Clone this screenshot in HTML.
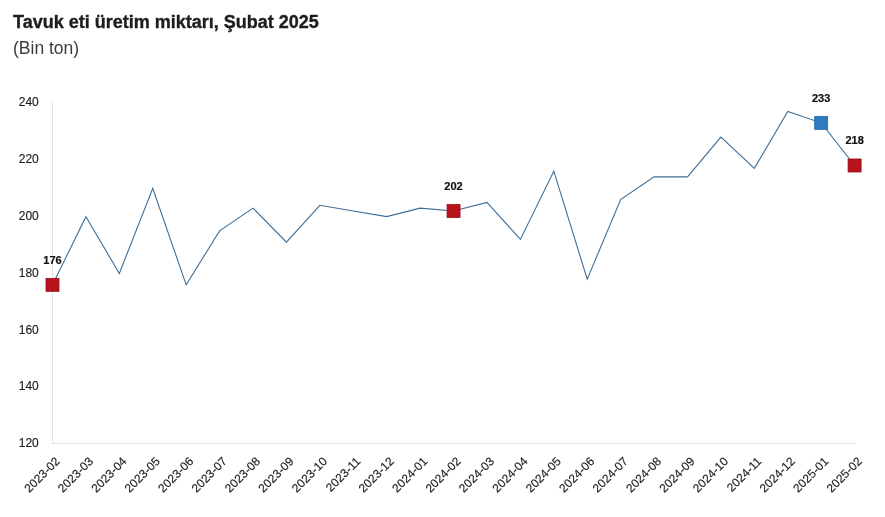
<!DOCTYPE html>
<html><head><meta charset="utf-8"><title>Tavuk eti üretim miktarı</title>
<style>html,body{margin:0;padding:0;background:#fff;width:885px;height:517px;overflow:hidden}svg{display:block}svg{will-change:transform}</style>
</head><body>
<svg width="885" height="517" viewBox="0 0 885 517">
<rect width="885" height="517" fill="#fff"/>
<text x="13" y="28" font-family='"Liberation Sans", Arial, sans-serif' font-weight="bold" font-size="18" fill="#1e1e1e" stroke="#1e1e1e" stroke-width="0.35">Tavuk eti üretim miktarı, Şubat 2025</text>
<text x="13" y="53.6" font-family='"Liberation Sans", Arial, sans-serif' font-size="17.5" fill="#3c3c3c">(Bin ton)</text>
<line x1="52.5" y1="101.5" x2="52.5" y2="444" stroke="#e2e2e2" stroke-width="1"/>
<line x1="52" y1="443.5" x2="856" y2="443.5" stroke="#e2e2e2" stroke-width="1"/>
<text x="38.8" y="447.2" text-anchor="end" font-family='"Liberation Sans", Arial, sans-serif' font-size="12" fill="#1c1c1c" stroke="#1c1c1c" stroke-width="0.15">120</text>
<text x="38.8" y="390.4" text-anchor="end" font-family='"Liberation Sans", Arial, sans-serif' font-size="12" fill="#1c1c1c" stroke="#1c1c1c" stroke-width="0.15">140</text>
<text x="38.8" y="333.5" text-anchor="end" font-family='"Liberation Sans", Arial, sans-serif' font-size="12" fill="#1c1c1c" stroke="#1c1c1c" stroke-width="0.15">160</text>
<text x="38.8" y="276.7" text-anchor="end" font-family='"Liberation Sans", Arial, sans-serif' font-size="12" fill="#1c1c1c" stroke="#1c1c1c" stroke-width="0.15">180</text>
<text x="38.8" y="219.8" text-anchor="end" font-family='"Liberation Sans", Arial, sans-serif' font-size="12" fill="#1c1c1c" stroke="#1c1c1c" stroke-width="0.15">200</text>
<text x="38.8" y="163.0" text-anchor="end" font-family='"Liberation Sans", Arial, sans-serif' font-size="12" fill="#1c1c1c" stroke="#1c1c1c" stroke-width="0.15">220</text>
<text x="38.8" y="106.2" text-anchor="end" font-family='"Liberation Sans", Arial, sans-serif' font-size="12" fill="#1c1c1c" stroke="#1c1c1c" stroke-width="0.15">240</text>
<polyline points="52.50,284.85 85.92,216.64 119.34,273.48 152.76,188.22 186.18,284.85 219.60,230.85 253.03,208.11 286.45,242.22 319.87,205.27 353.29,210.96 386.71,216.64 420.13,208.11 453.55,210.96 486.97,202.43 520.39,239.38 553.81,171.17 587.23,279.16 620.65,199.59 654.08,176.85 687.50,176.85 720.92,137.06 754.34,168.33 787.76,111.49 821.18,122.85 854.60,165.48" fill="none" stroke="#3d6e97" stroke-width="1.1" stroke-linejoin="miter"/>
<rect x="46.00" y="278.35" width="13" height="13" fill="#b8121c" stroke="#9c0f17" stroke-width="0.8"/>
<text x="52.50" y="263.85" text-anchor="middle" font-family='"Liberation Sans", Arial, sans-serif' font-weight="bold" font-size="11" fill="#111" stroke="#111" stroke-width="0.2">176</text>
<rect x="447.05" y="204.46" width="13" height="13" fill="#b8121c" stroke="#9c0f17" stroke-width="0.8"/>
<text x="453.55" y="189.96" text-anchor="middle" font-family='"Liberation Sans", Arial, sans-serif' font-weight="bold" font-size="11" fill="#111" stroke="#111" stroke-width="0.2">202</text>
<rect x="814.68" y="116.35" width="13" height="13" fill="#2f7bbf" stroke="#2869a8" stroke-width="0.8"/>
<text x="821.18" y="101.85" text-anchor="middle" font-family='"Liberation Sans", Arial, sans-serif' font-weight="bold" font-size="11" fill="#111" stroke="#111" stroke-width="0.2">233</text>
<rect x="848.10" y="158.98" width="13" height="13" fill="#b8121c" stroke="#9c0f17" stroke-width="0.8"/>
<text x="854.60" y="144.48" text-anchor="middle" font-family='"Liberation Sans", Arial, sans-serif' font-weight="bold" font-size="11" fill="#111" stroke="#111" stroke-width="0.2">218</text>
<text transform="translate(60.50,462.00) rotate(-45)" text-anchor="end" font-family='"Liberation Sans", Arial, sans-serif' font-size="12" fill="#1c1c1c" stroke="#1c1c1c" stroke-width="0.15">2023-02</text>
<text transform="translate(93.92,462.00) rotate(-45)" text-anchor="end" font-family='"Liberation Sans", Arial, sans-serif' font-size="12" fill="#1c1c1c" stroke="#1c1c1c" stroke-width="0.15">2023-03</text>
<text transform="translate(127.34,462.00) rotate(-45)" text-anchor="end" font-family='"Liberation Sans", Arial, sans-serif' font-size="12" fill="#1c1c1c" stroke="#1c1c1c" stroke-width="0.15">2023-04</text>
<text transform="translate(160.76,462.00) rotate(-45)" text-anchor="end" font-family='"Liberation Sans", Arial, sans-serif' font-size="12" fill="#1c1c1c" stroke="#1c1c1c" stroke-width="0.15">2023-05</text>
<text transform="translate(194.18,462.00) rotate(-45)" text-anchor="end" font-family='"Liberation Sans", Arial, sans-serif' font-size="12" fill="#1c1c1c" stroke="#1c1c1c" stroke-width="0.15">2023-06</text>
<text transform="translate(227.60,462.00) rotate(-45)" text-anchor="end" font-family='"Liberation Sans", Arial, sans-serif' font-size="12" fill="#1c1c1c" stroke="#1c1c1c" stroke-width="0.15">2023-07</text>
<text transform="translate(261.02,462.00) rotate(-45)" text-anchor="end" font-family='"Liberation Sans", Arial, sans-serif' font-size="12" fill="#1c1c1c" stroke="#1c1c1c" stroke-width="0.15">2023-08</text>
<text transform="translate(294.45,462.00) rotate(-45)" text-anchor="end" font-family='"Liberation Sans", Arial, sans-serif' font-size="12" fill="#1c1c1c" stroke="#1c1c1c" stroke-width="0.15">2023-09</text>
<text transform="translate(327.87,462.00) rotate(-45)" text-anchor="end" font-family='"Liberation Sans", Arial, sans-serif' font-size="12" fill="#1c1c1c" stroke="#1c1c1c" stroke-width="0.15">2023-10</text>
<text transform="translate(361.29,462.00) rotate(-45)" text-anchor="end" font-family='"Liberation Sans", Arial, sans-serif' font-size="12" fill="#1c1c1c" stroke="#1c1c1c" stroke-width="0.15">2023-11</text>
<text transform="translate(394.71,462.00) rotate(-45)" text-anchor="end" font-family='"Liberation Sans", Arial, sans-serif' font-size="12" fill="#1c1c1c" stroke="#1c1c1c" stroke-width="0.15">2023-12</text>
<text transform="translate(428.13,462.00) rotate(-45)" text-anchor="end" font-family='"Liberation Sans", Arial, sans-serif' font-size="12" fill="#1c1c1c" stroke="#1c1c1c" stroke-width="0.15">2024-01</text>
<text transform="translate(461.55,462.00) rotate(-45)" text-anchor="end" font-family='"Liberation Sans", Arial, sans-serif' font-size="12" fill="#1c1c1c" stroke="#1c1c1c" stroke-width="0.15">2024-02</text>
<text transform="translate(494.97,462.00) rotate(-45)" text-anchor="end" font-family='"Liberation Sans", Arial, sans-serif' font-size="12" fill="#1c1c1c" stroke="#1c1c1c" stroke-width="0.15">2024-03</text>
<text transform="translate(528.39,462.00) rotate(-45)" text-anchor="end" font-family='"Liberation Sans", Arial, sans-serif' font-size="12" fill="#1c1c1c" stroke="#1c1c1c" stroke-width="0.15">2024-04</text>
<text transform="translate(561.81,462.00) rotate(-45)" text-anchor="end" font-family='"Liberation Sans", Arial, sans-serif' font-size="12" fill="#1c1c1c" stroke="#1c1c1c" stroke-width="0.15">2024-05</text>
<text transform="translate(595.23,462.00) rotate(-45)" text-anchor="end" font-family='"Liberation Sans", Arial, sans-serif' font-size="12" fill="#1c1c1c" stroke="#1c1c1c" stroke-width="0.15">2024-06</text>
<text transform="translate(628.65,462.00) rotate(-45)" text-anchor="end" font-family='"Liberation Sans", Arial, sans-serif' font-size="12" fill="#1c1c1c" stroke="#1c1c1c" stroke-width="0.15">2024-07</text>
<text transform="translate(662.08,462.00) rotate(-45)" text-anchor="end" font-family='"Liberation Sans", Arial, sans-serif' font-size="12" fill="#1c1c1c" stroke="#1c1c1c" stroke-width="0.15">2024-08</text>
<text transform="translate(695.50,462.00) rotate(-45)" text-anchor="end" font-family='"Liberation Sans", Arial, sans-serif' font-size="12" fill="#1c1c1c" stroke="#1c1c1c" stroke-width="0.15">2024-09</text>
<text transform="translate(728.92,462.00) rotate(-45)" text-anchor="end" font-family='"Liberation Sans", Arial, sans-serif' font-size="12" fill="#1c1c1c" stroke="#1c1c1c" stroke-width="0.15">2024-10</text>
<text transform="translate(762.34,462.00) rotate(-45)" text-anchor="end" font-family='"Liberation Sans", Arial, sans-serif' font-size="12" fill="#1c1c1c" stroke="#1c1c1c" stroke-width="0.15">2024-11</text>
<text transform="translate(795.76,462.00) rotate(-45)" text-anchor="end" font-family='"Liberation Sans", Arial, sans-serif' font-size="12" fill="#1c1c1c" stroke="#1c1c1c" stroke-width="0.15">2024-12</text>
<text transform="translate(829.18,462.00) rotate(-45)" text-anchor="end" font-family='"Liberation Sans", Arial, sans-serif' font-size="12" fill="#1c1c1c" stroke="#1c1c1c" stroke-width="0.15">2025-01</text>
<text transform="translate(862.60,462.00) rotate(-45)" text-anchor="end" font-family='"Liberation Sans", Arial, sans-serif' font-size="12" fill="#1c1c1c" stroke="#1c1c1c" stroke-width="0.15">2025-02</text>
</svg>
</body></html>
